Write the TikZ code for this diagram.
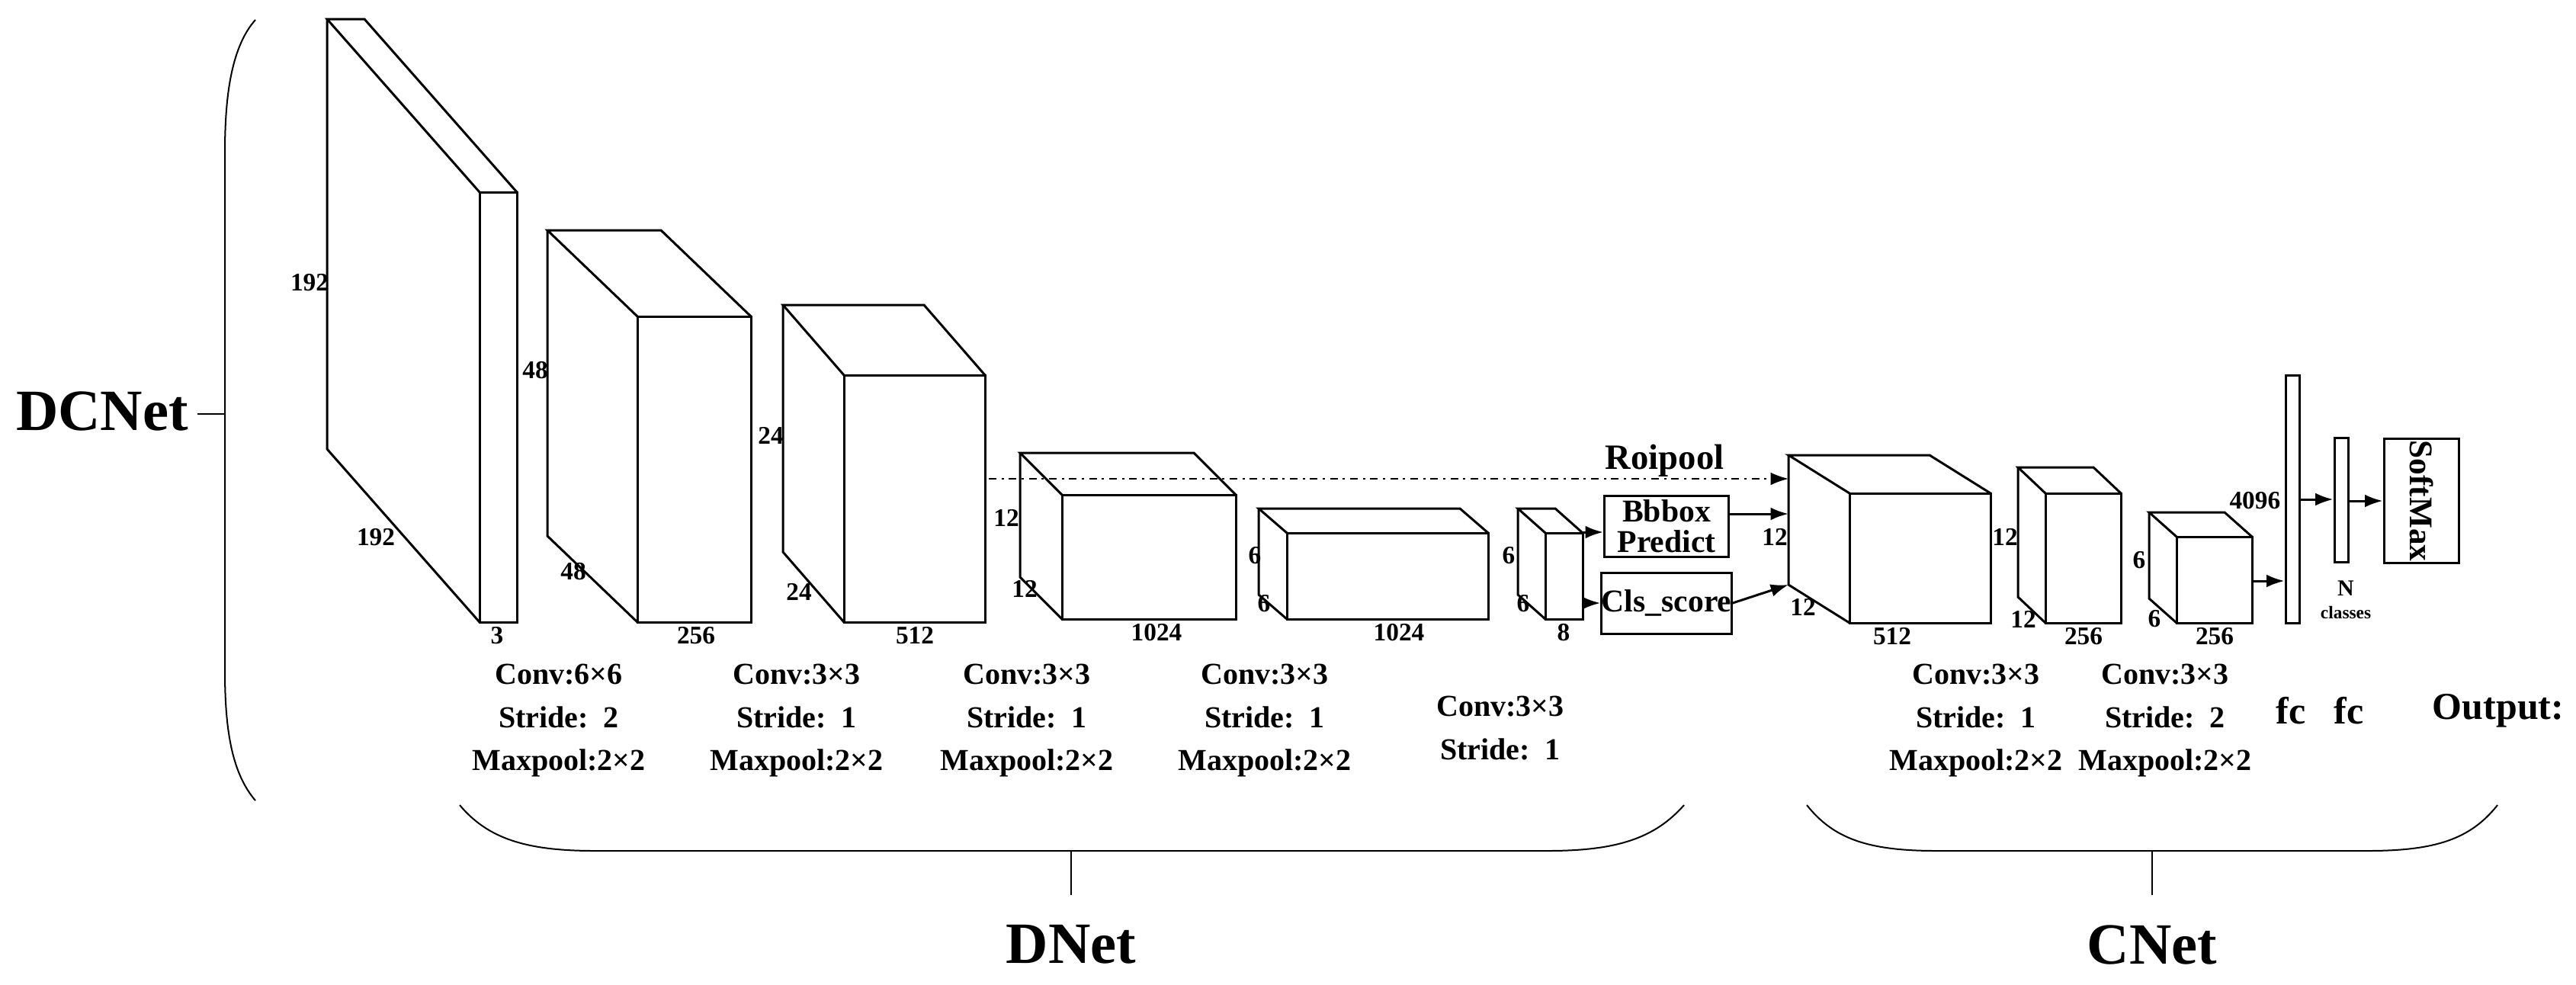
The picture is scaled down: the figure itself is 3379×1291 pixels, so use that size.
\documentclass[tikz,border=0pt]{standalone}
\usepackage{fontspec}
\setmainfont{Liberation Serif}
\usetikzlibrary{arrows.meta,calc}
\newcommand\mycube[6]{% x1 x2 ytop ybot dx dy
  \draw (#1,#3) rectangle (#2,#4);
  \draw (#1,#3) -- ++(#5,#6) -- ($(#2,#3)+(#5,#6)$) -- (#2,#3);
  \draw ($(#1,#3)+(#5,#6)$) -- ($(#1,#4)+(#5,#6)$) -- (#1,#4);
}
\begin{document}
\begin{tikzpicture}[x=0.3pt,y=-0.3pt,line width=0.9pt,
  dim/.style={font=\bfseries\fontsize{10}{12}\selectfont,inner sep=1pt},
  lbl/.style={font=\bfseries\fontsize{12}{17}\selectfont,align=center},
  big/.style={font=\bfseries\fontsize{23}{26}\selectfont},
  bx/.style={draw,font=\bfseries\fontsize{12.5}{14}\selectfont,align=center,inner sep=0pt},
  arr/.style={-{Latex[length=7pt,width=5pt]}}]
\useasboundingbox (0,0) rectangle (3379,1291);
% cubes
\mycube{629}{678}{252}{816}{-200}{-227}
\mycube{836}{985}{415}{816}{-118}{-113}
\mycube{1107}{1292}{492}{816}{-80}{-92}
\mycube{1393}{1621}{649}{812}{-55}{-55}
\mycube{1688}{1952}{699}{812}{-37}{-32}
\mycube{2027}{2076}{699}{812}{-36}{-32}
\mycube{2426}{2611}{647}{817}{-80}{-50}
\mycube{2683}{2782}{647}{817}{-36}{-34}
\mycube{2855}{2954}{704}{817}{-36}{-32}
% dims
\node[dim] at (406,371) {192};
\node[dim] at (493,705) {192};
\node[dim] at (652,834) {3};
\node[dim] at (702,486) {48};
\node[dim] at (752,750) {48};
\node[dim] at (913,834) {256};
\node[dim] at (1011,571) {24};
\node[dim] at (1048,776) {24};
\node[dim] at (1200,834) {512};
\node[dim] at (1320,679) {12};
\node[dim] at (1344,772) {12};
\node[dim] at (1517,830) {1024};
\node[dim] at (1646,729) {6};
\node[dim] at (1658,792) {6};
\node[dim] at (1835,830) {1024};
\node[dim] at (1979,729) {6};
\node[dim] at (1998,792) {6};
\node[dim] at (2051,830) {8};
\node[dim] at (2328,704) {12};
\node[dim] at (2365,796) {12};
\node[dim] at (2482,835) {512};
\node[dim] at (2630,704) {12};
\node[dim] at (2654,812) {12};
\node[dim] at (2733,835) {256};
\node[dim] at (2806,735) {6};
\node[dim] at (2826,812) {6};
\node[dim] at (2905,835) {256};
% boxes
\node[bx,minimum width=163*0.3pt,minimum height=80*0.3pt] (bb) at (2186,690) {Bbbox\\[-2pt]Predict};
\node[bx,minimum width=163*0.3pt,minimum height=80*0.3pt] (cls) at (2186,791) {Cls\_score};
\coordinate (c6a) at (2076,698);
\coordinate (c6b) at (2076,791);
\draw[arr] (c6a) -- (c6a -| bb.west);
\draw[arr] (c6b) -- (c6b -| cls.west);
\coordinate (b7a) at (2346,674);
\coordinate (b7b) at (2346,767);
\draw[arr] (bb.east |- b7a) -- (b7a);
\draw[arr] (cls.east) -- (b7b);
\coordinate (ds) at (1297,628);
\coordinate (de) at (2346,628);
\draw[arr,dash dot,line width=0.6pt] (ds) -- (de);
\node[font=\bfseries\fontsize{14}{16}\selectfont,anchor=east] (roi) at (2274,604) {Roipool};
% fc layers
\node[draw,minimum width=18*0.3pt,minimum height=325*0.3pt,inner sep=0pt] (fc1) at (3007,655) {};
\node[draw,minimum width=18*0.3pt,minimum height=163*0.3pt,inner sep=0pt] (fc2) at (3071,656) {};
\node[draw,minimum width=98*0.3pt,minimum height=163*0.3pt,inner sep=0pt] (sm) at (3176,657) {};
\node[rotate=-90,font=\bfseries\fontsize{13}{15}\selectfont] at (sm) {SoftMax};
\coordinate (b9) at (2954,762);
\draw[arr] (b9) -- (b9 -| fc1.west);
\draw[arr] (fc1.east |- 0,655) -- (fc2.west |- 0,655);
\draw[arr] (fc2.east |- 0,657) -- (sm.west |- 0,657);
\node[dim,anchor=east] at (2996,657) {4096};
\node[font=\bfseries\fontsize{9}{10}\selectfont,align=center] at (3077,787) {N\\[-1pt]\fontsize{7}{8}\selectfont classes};
% layer texts
\node[lbl] at (733,945) {Conv:6×6\\Stride:\ \ 2\\Maxpool:2×2};
\node[lbl] at (1045,945) {Conv:3×3\\Stride:\ \ 1\\Maxpool:2×2};
\node[lbl] at (1347,945) {Conv:3×3\\Stride:\ \ 1\\Maxpool:2×2};
\node[lbl] at (1659,945) {Conv:3×3\\Stride:\ \ 1\\Maxpool:2×2};
\node[lbl] at (1968,955) {Conv:3×3\\Stride:\ \ 1};
\node[lbl] at (2592,945) {Conv:3×3\\Stride:\ \ 1\\Maxpool:2×2};
\node[lbl] at (2840,945) {Conv:3×3\\Stride:\ \ 2\\Maxpool:2×2};
\node[font=\bfseries\fontsize{15}{17}\selectfont] at (3005,932) {fc};
\node[font=\bfseries\fontsize{15}{17}\selectfont] at (3081,932) {fc};
\node[font=\bfseries\fontsize{15}{17}\selectfont] at (3277,932) {Output:};
% braces
\draw[line width=0.6pt] (335,26) .. controls (305,60) and (295,120) .. (295,200) -- (295,880) .. controls (295,960) and (305,1015) .. (335,1050);
\coordinate (t1) at (295,543); \coordinate (t1e) at (259,543);
\draw[line width=0.6pt] (t1) -- (t1e);
\node[big,anchor=east,inner sep=2pt] (dcnet) at (255,539) {DCNet};
\draw[line width=0.6pt] (603,1056) .. controls (640,1100) and (690,1116) .. (780,1116) -- (2030,1116) .. controls (2120,1116) and (2170,1100) .. (2209,1056);
\coordinate (t2) at (1405,1116); \coordinate (t2e) at (1405,1174);
\draw[line width=0.6pt] (t2) -- (t2e);
\node[big] (dnet) at (1405,1239) {DNet};
\draw[line width=0.6pt] (2370,1056) .. controls (2405,1100) and (2450,1116) .. (2540,1116) -- (3106,1116) .. controls (3196,1116) and (3241,1100) .. (3276,1056);
\coordinate (t3) at (2823,1116); \coordinate (t3e) at (2823,1174);
\draw[line width=0.6pt] (t3) -- (t3e);
\node[big] (cnet) at (2823,1239) {CNet};
\end{tikzpicture}
\end{document}
